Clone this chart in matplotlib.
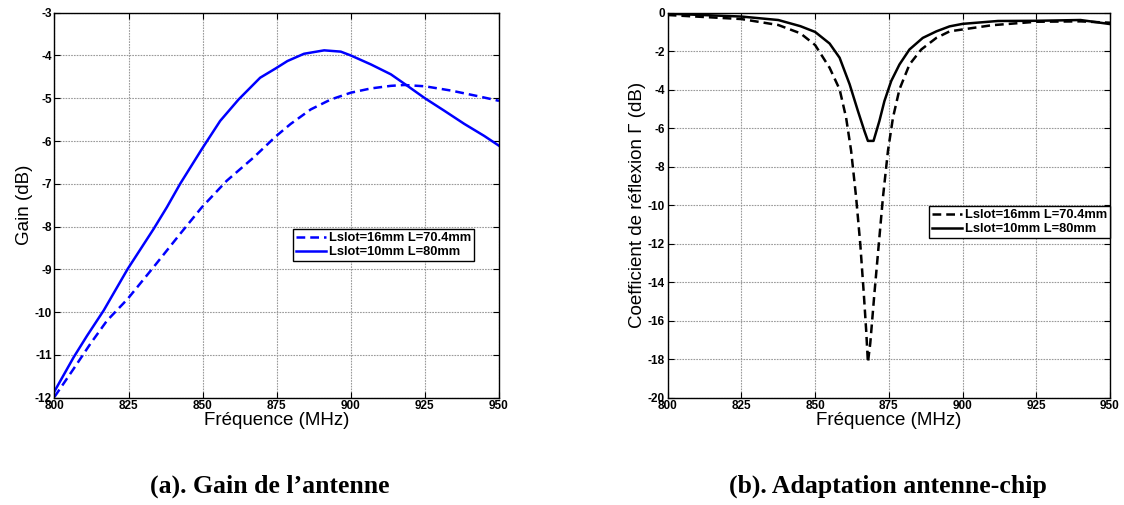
import matplotlib
matplotlib.use("Agg")
import matplotlib.pyplot as plt

# ---- Data: Gain (dB) vs frequency (MHz) ----
gain_f_dash = [800, 806.5, 812.1, 817.7, 824.7, 833.4, 842.4, 849.7, 858.1, 867.1, 874.7,
               879.7, 886.5, 893.2, 900, 906.8, 913.5, 918, 925, 933.8, 942.8, 950]
gain_dash = [-11.98, -11.32, -10.74, -10.2, -9.69, -8.95, -8.17, -7.55, -6.93, -6.39, -5.89,
             -5.6, -5.26, -5.03, -4.87, -4.77, -4.71, -4.69, -4.72, -4.82, -4.95, -5.06]
gain_f_solid = [800, 806.5, 811.0, 816.6, 824.7, 833.4, 837.9, 842.4, 849.7, 855.9, 862.1, 869.4,
                874.7, 878.6, 884.2, 891, 896.6, 900, 906.8, 913.5, 919.1, 925, 931.5, 938.3, 945, 950]
gain_solid = [-11.85, -11.05, -10.55, -9.96, -8.99, -8.06, -7.55, -7.0, -6.19, -5.53, -5.03, -4.52,
              -4.3, -4.13, -3.96, -3.88, -3.91, -4.0, -4.21, -4.44, -4.71, -5.0, -5.29, -5.6, -5.88, -6.11]

# ---- Data: Reflection coefficient (dB) vs frequency (MHz) ----
refl_f_dash = [800, 825, 837.5, 845, 850, 854.9, 858.3, 860.5, 862.2, 863.9, 865.3, 866.5, 867.3, 867.9,
               868.7, 870.1, 871.6, 873.0, 874.7, 876.4, 878.6, 882.0, 886.0, 891.1, 895.6, 900, 910, 925, 940, 950]
refl_dash = [-0.12, -0.33, -0.64, -1.07, -1.68, -2.86, -3.98, -5.45, -7.17, -9.59, -12.0, -14.59, -16.48, -18.17,
             -17.17, -14.59, -12.0, -9.59, -7.17, -5.45, -3.98, -2.69, -1.91, -1.31, -0.97, -0.87, -0.65, -0.47, -0.45, -0.52]
refl_f_solid = [800, 825, 837.5, 845, 850, 854.9, 858.3, 861.7, 864.5, 866.7, 867.9, 869.8, 871.8, 873.5,
                875.8, 878.6, 882.0, 886.5, 891.1, 895.6, 900, 912, 925, 940, 950]
refl_solid = [-0.05, -0.2, -0.38, -0.7, -1.0, -1.6, -2.34, -3.72, -5.1, -6.14, -6.66, -6.66, -5.62, -4.59,
              -3.55, -2.69, -1.91, -1.31, -0.97, -0.71, -0.58, -0.43, -0.42, -0.38, -0.59]

labels = ["Lslot=16mm L=70.4mm", "Lslot=10mm L=80mm"]
xticks = [800, 825, 850, 875, 900, 925, 950]

plt.rcParams['font.family'] = ['Liberation Sans', 'DejaVu Sans']
plt.rcParams['axes.unicode_minus'] = False

fig = plt.figure(figsize=(11.24, 5.05), dpi=100)
W, H = 1124, 505
ax1 = fig.add_axes([54.5 / W, (H - 397.7) / H, 444.5 / W, 385 / H])
ax2 = fig.add_axes([667.7 / W, (H - 397.7) / H, 442.3 / W, 385 / H])


def style(ax):
    ax.set_xlim(800, 950)
    ax.set_xticks(xticks)
    ax.grid(True, color='#9a9a9a', linestyle=(0, (1.5, 1)), linewidth=0.8)
    ax.set_axisbelow(True)
    ax.tick_params(direction='in', top=True, right=True, length=4, width=0.8, labelsize=8.5, pad=2)
    for lbl in ax.get_xticklabels() + ax.get_yticklabels():
        lbl.set_fontweight('bold')
    for s in ax.spines.values():
        s.set_linewidth(1.0)
    ax.set_xlabel("Fréquence (MHz)", fontsize=13.5, labelpad=0)


ax1.plot(gain_f_dash, gain_dash, color='#0000ff', linestyle=(0, (3.5, 2)), linewidth=1.8, label=labels[0])
ax1.plot(gain_f_solid, gain_solid, color='#0000ff', linestyle='-', linewidth=1.8, label=labels[1])
ax1.set_ylim(-12, -3)
ax1.set_yticks(range(-12, -2))
style(ax1)
ax1.set_ylabel("Gain (dB)", fontsize=13.5, labelpad=1)
leg1 = ax1.legend(loc='upper left', bbox_to_anchor=((293 - 54.5) / 444.5, (397.7 - 229) / 385),
                  prop={'weight': 'bold', 'size': 9.3}, frameon=True, fancybox=False,
                  edgecolor='black', framealpha=1, borderpad=0.25, labelspacing=0.15,
                  handlelength=2.3, handletextpad=0.2, borderaxespad=0)
leg1.get_frame().set_linewidth(1.0)

ax2.plot(refl_f_dash, refl_dash, color='black', linestyle=(0, (3.5, 2)), linewidth=1.8, label=labels[0])
ax2.plot(refl_f_solid, refl_solid, color='black', linestyle='-', linewidth=1.8, label=labels[1])
ax2.set_ylim(-20, 0)
ax2.set_yticks(range(-20, 1, 2))
style(ax2)
ax2.set_ylabel("Coefficient de réflexion Γ (dB)", fontsize=13.5, labelpad=1)
leg2 = ax2.legend(loc='upper right', bbox_to_anchor=(1.0, (397.7 - 206) / 385),
                  prop={'weight': 'bold', 'size': 9.3}, frameon=True, fancybox=False,
                  edgecolor='black', framealpha=1, borderpad=0.25, labelspacing=0.15,
                  handlelength=2.3, handletextpad=0.2, borderaxespad=0)
leg2.get_frame().set_linewidth(1.0)

fig.text(270 / W, 1 - 486 / H, "(a). Gain de l\u2019antenne", ha='center', va='center',
         fontsize=18.5, fontweight='bold', family=['Liberation Serif', 'DejaVu Serif'])
fig.text(888 / W, 1 - 486 / H, "(b). Adaptation antenne-chip", ha='center', va='center',
         fontsize=18.5, fontweight='bold', family=['Liberation Serif', 'DejaVu Serif'])

fig.savefig("out.png", dpi=100)
